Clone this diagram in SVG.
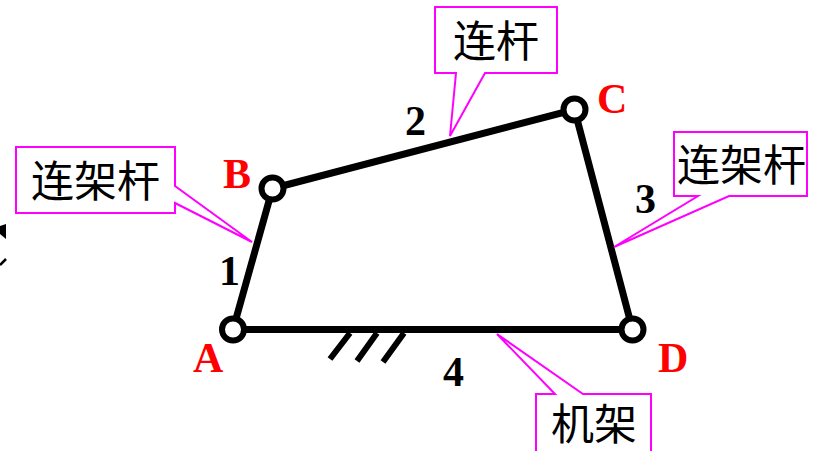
<svg xmlns="http://www.w3.org/2000/svg" width="817" height="451" viewBox="0 0 817 451">
<style>
.call{fill:#fff;stroke:#f0f;stroke-width:2}
.cjk{font-family:"Noto Sans CJK SC",sans-serif;font-size:43px;fill:#000}
.lab{font-family:"Liberation Serif",serif;font-weight:bold;font-size:42px}
.r{fill:#f00}
.k{fill:#000}
.bar{stroke:#000;stroke-width:7;fill:none}
.j{fill:#fff;stroke:#000;stroke-width:6}
</style>
<rect width="817" height="451" fill="#fff"/>
<g id="edge-fragment"><path d="M0 226L6 224L6 239L0 234Z" fill="#000"/><path d="M0 265L6 259" stroke="#000" stroke-width="2.5"/></g>
<g id="connectors">
<path class="bar" d="M233 329.500L272.500 188.500L574.500 109.500L632.500 329.500Z"/>
<path class="bar" d="M350 333L330 359M377 333L357 361M404 333L383 362" style="stroke-width:6"/>
</g>
<g id="callout-left"><path class="call" d="M16 147H175V186L252 242L175 203V213H16Z"/><text class="cjk" x="31" y="197">连架杆</text></g>
<g id="callout-top"><path class="call" d="M435 7H557V73H485L450 136L456 73H435Z"/><text class="cjk" x="453" y="57">连杆</text></g>
<g id="callout-right"><path class="call" d="M674 132H807V196H729L614 247L698 196H674Z"/><text class="cjk" x="677" y="181">连架杆</text></g>
<g id="callout-bottom"><path class="call" d="M536 394H555L497 334L583 394H651V453H536Z"/><text class="cjk" x="551" y="440">机架</text></g>
<g id="joint-A"><circle class="j" cx="233" cy="329.500" r="11"/><text class="lab r" x="193" y="372">A</text></g>
<g id="joint-B"><circle class="j" cx="272.500" cy="188.500" r="11"/><text class="lab r" x="223" y="188">B</text></g>
<g id="joint-C"><circle class="j" cx="574.500" cy="109.500" r="11"/><text class="lab r" x="597" y="113">C</text></g>
<g id="joint-D"><circle class="j" cx="632.500" cy="329.500" r="11"/><text class="lab r" x="658" y="372">D</text></g>
<g id="link-labels">
<text class="lab k" x="219" y="285">1</text>
<text class="lab k" x="405" y="135">2</text>
<text class="lab k" x="635" y="213">3</text>
<text class="lab k" x="443" y="386">4</text>
</g>
</svg>
